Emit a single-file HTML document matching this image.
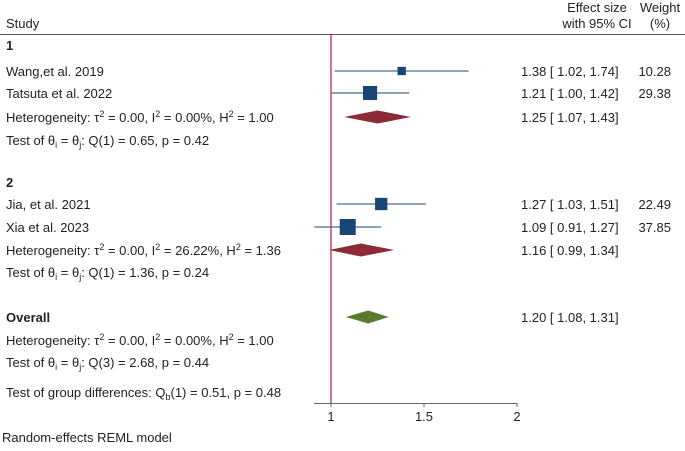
<!DOCTYPE html>
<html><head><meta charset="utf-8"><style>
body{margin:0;background:#fff;}
svg text{font-family:"Liberation Sans",Arial,sans-serif;font-size:13px;fill:#222;}
</style></head><body>
<svg width="685" height="446" xmlns="http://www.w3.org/2000/svg">
<text x="6" y="28">Study</text>
<text x="597" y="12" text-anchor="middle">Effect size</text>
<text x="597" y="28" text-anchor="middle">with 95% CI</text>
<text x="660" y="12" text-anchor="middle">Weight</text>
<text x="660" y="28" text-anchor="middle">(%)</text>
<line x1="0" y1="34.5" x2="685" y2="34.5" stroke="#555" stroke-width="1"/>
<g id="marks"></g>
<line x1="314" y1="403.5" x2="517" y2="403.5" stroke="#666"/>
<g id="ticks"></g>
<text x="2" y="442">Random-effects REML model</text>
<g id="labels"></g>
</svg>
<script>
const studies = ["Wang,et al. 2019","Tatsuta et al. 2022","Jia, et al. 2021","Xia et al. 2023"];
const est = [1.38,1.21,1.27,1.09];
const lo = [1.02,1.00,1.03,0.91];
const hi = [1.74,1.42,1.51,1.27];
const weights = [10.28,29.38,22.49,37.85];
const studyY = [71,93,204,227];
const pooledEst = [1.25,1.16,1.20];
const pooledLo = [1.07,0.99,1.08];
const pooledHi = [1.43,1.34,1.31];
const pooledY = [117,250,317];
const ticks = [1,1.5,2];
const tickLabels = ["1","1.5","2"];
const NS="http://www.w3.org/2000/svg";
const xs = v => 331 + (v-1)*186;
function mk(tag, attrs, parent){const e=document.createElementNS(NS,tag);for(const k in attrs)e.setAttribute(k,attrs[k]);parent.appendChild(e);return e;}
const marks=document.getElementById('marks'), lab=document.getElementById('labels'), tk=document.getElementById('ticks');
const svg=document.querySelector('svg');
const rl=mk('line',{x1:xs(1),x2:xs(1),y1:35,y2:403,stroke:'#c01838','stroke-width':1.2},marks);


const f=v=>v.toFixed(2);
studies.forEach((s,i)=>{
  const y=studyY[i];
  const l=mk('line',{x1:xs(lo[i]),x2:xs(hi[i]),y1:y,y2:y,stroke:'#4a6a94','stroke-width':1.3},marks);
  
  
  const sz=2.6*Math.sqrt(weights[i]);
  const r=mk('rect',{x:xs(est[i])-sz/2,y:y-sz/2,width:sz,height:sz,fill:'#1a4676'},marks);
  
  
  const t=mk('text',{x:6,y:y+5},lab);t.textContent=s;
  
  
  const e=mk('text',{x:521,y:y+5},lab);e.textContent=f(est[i])+" [ "+f(lo[i])+",  "+f(hi[i])+"]";
  
  
  const w=mk('text',{x:671,y:y+5,'text-anchor':'end'},lab);w.textContent=weights[i].toFixed(2);
  
  
});
pooledEst.forEach((v,i)=>{
  const y=pooledY[i];
  const col=i===2?'#5a7a30':'#8c2a35';
  const d=mk('polygon',{points:`${xs(pooledLo[i])},${y} ${xs(v)},${y-6.5} ${xs(pooledHi[i])},${y} ${xs(v)},${y+6.5}`,fill:col},marks);
  
  
  const e=mk('text',{x:521,y:y+5},lab);e.textContent=f(v)+" [ "+f(pooledLo[i])+",  "+f(pooledHi[i])+"]";
  
  
});
ticks.forEach((v,i)=>{
  const l=mk('line',{x1:xs(v),x2:xs(v),y1:403,y2:407,stroke:'#666'},tk);
  
  
  const t=mk('text',{x:xs(v),y:421,'text-anchor':'middle'},tk);t.textContent=tickLabels[i];
  
  
});
const other=[
 [50,'<tspan font-weight="bold">1</tspan>'],
 [122,'Heterogeneity: τ<tspan dy="-5" font-size="9">2</tspan><tspan dy="5"> = 0.00, I</tspan><tspan dy="-5" font-size="9">2</tspan><tspan dy="5"> = 0.00%, H</tspan><tspan dy="-5" font-size="9">2</tspan><tspan dy="5"> = 1.00</tspan>'],
 [145,'Test of θ<tspan dy="3" font-size="9">i</tspan><tspan dy="-3"> = θ</tspan><tspan dy="3" font-size="9">j</tspan><tspan dy="-3">: Q(1) = 0.65, p = 0.42</tspan>'],
 [187,'<tspan font-weight="bold">2</tspan>'],
 [255,'Heterogeneity: τ<tspan dy="-5" font-size="9">2</tspan><tspan dy="5"> = 0.00, I</tspan><tspan dy="-5" font-size="9">2</tspan><tspan dy="5"> = 26.22%, H</tspan><tspan dy="-5" font-size="9">2</tspan><tspan dy="5"> = 1.36</tspan>'],
 [277,'Test of θ<tspan dy="3" font-size="9">i</tspan><tspan dy="-3"> = θ</tspan><tspan dy="3" font-size="9">j</tspan><tspan dy="-3">: Q(1) = 1.36, p = 0.24</tspan>'],
 [322,'<tspan font-weight="bold">Overall</tspan>'],
 [345,'Heterogeneity: τ<tspan dy="-5" font-size="9">2</tspan><tspan dy="5"> = 0.00, I</tspan><tspan dy="-5" font-size="9">2</tspan><tspan dy="5"> = 0.00%, H</tspan><tspan dy="-5" font-size="9">2</tspan><tspan dy="5"> = 1.00</tspan>'],
 [367,'Test of θ<tspan dy="3" font-size="9">i</tspan><tspan dy="-3"> = θ</tspan><tspan dy="3" font-size="9">j</tspan><tspan dy="-3">: Q(3) = 2.68, p = 0.44</tspan>'],
 [397,'Test of group differences: Q<tspan dy="3" font-size="9">b</tspan><tspan dy="-3">(1) = 0.51, p = 0.48</tspan>']
];
other.forEach(([y,h])=>{
  const t=mk('text',{x:6,y:y},lab);t.innerHTML=h;
  
  
});
</script>
</body></html>
